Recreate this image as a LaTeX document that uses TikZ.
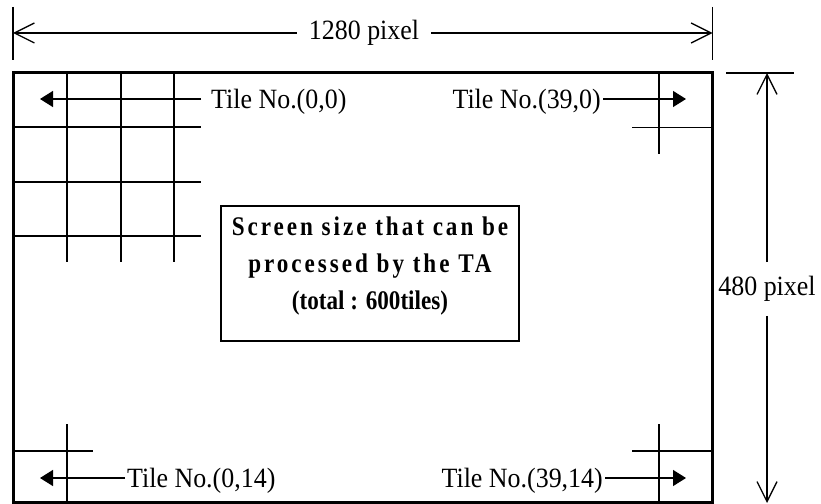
\documentclass[tikz,border=0pt]{standalone}
\usepackage{fontspec}
\setmainfont[FakeStretch=0.93]{Liberation Serif}
\newfontfamily\spacedfont[FakeStretch=0.86,LetterSpace=11]{Liberation Serif}
\newfontfamily\plainboxfont[FakeStretch=0.86]{Liberation Serif}
\usetikzlibrary{arrows.meta}

\begin{document}
\begin{tikzpicture}[
  x=1bp,
  y=-1bp,
  thin line/.style={
    line width=1.3bp
  },
  frame line/.style={
    line width=3bp
  },
  dim arrow/.style={
    ->,
    >={Straight Barb[length=20bp,width=20bp]},
    line width=1.3bp
  },
  tile arrow/.style={
    ->,
    >={Triangle[length=13bp,width=16bp]},
    line width=1.3bp
  },
  dim label/.style={
    inner sep=2bp,
    font=\fontsize{28}{32}\selectfont
  },
  tile label/.style={
    inner sep=2bp,
    text height=19bp,
    text depth=0bp,
    font=\fontsize{28}{32}\selectfont
  },
  note box/.style={
    draw,
    line width=1.5bp,
    align=center,
    minimum width=298bp,
    minimum height=135bp,
    font=\bfseries\fontsize{27}{37}\selectfont
  }
]
\useasboundingbox (0,0) rectangle (821,504);

\draw[thin line] (13,7) -- (13,60);
\draw[thin line] (712.5,7) -- (712.5,60);
\node[dim label, inner xsep=12bp] (width) at (364,33) {1280 pixel};
\coordinate (width left) at (13,33);
\coordinate (width right) at (712.5,33);
\draw[dim arrow] (width) -- (width left);
\draw[dim arrow] (width) -- (width right);

\draw[thin line] (726,73) -- (794,73);
\node[dim label, inner ysep=14bp] (height) at (767,289) {480 pixel};
\coordinate (height top) at (767,73);
\coordinate (height bottom) at (767,503);
\draw[dim arrow] (height) -- (height top);
\draw[dim arrow] (height) -- (height bottom);

\draw[frame line] (13,73) rectangle (712.5,502.5);

\foreach \x in {67,121,174}
  \draw[thin line] (\x,73) -- (\x,262);
\foreach \y in {127,182,236}
  \draw[thin line] (13,\y) -- (201,\y);

\draw[thin line] (659,73) -- (659,154);
\draw[thin line] (632,127.5) -- (712,127.5);
\draw[thin line] (67,424) -- (67,502);
\draw[thin line] (13,451) -- (93,451);
\draw[thin line] (659,424) -- (659,502);
\draw[thin line] (632,451) -- (712,451);

\node[tile label, anchor=west, inner xsep=10bp] (tile00) at (201,99) {Tile No.(0,0)};
\node[tile label, anchor=east] (tile390) at (603,99) {Tile No.(39,0)};
\node[tile label, anchor=west] (tile014) at (125,478) {Tile No.(0,14)};
\node[tile label, anchor=east] (tile3914) at (605,478) {Tile No.(39,14)};

\coordinate (tip00) at (40,99);
\coordinate (tip390) at (686,99);
\coordinate (tip014) at (40,478);
\coordinate (tip3914) at (686,478);

\draw[tile arrow] (tile00) -- (tip00);
\draw[tile arrow] (tile390) -- (tip390);
\draw[tile arrow] (tile014) -- (tip014);
\draw[tile arrow] (tile3914) -- (tip3914);

\node[note box] (screen) at (370,273.5)
  {{\spacedfont Screen size that can be}\\{\spacedfont processed by the TA}\\{\plainboxfont (total : 600tiles)}\rule[-20bp]{0pt}{20bp}};

\end{tikzpicture}
\end{document}
